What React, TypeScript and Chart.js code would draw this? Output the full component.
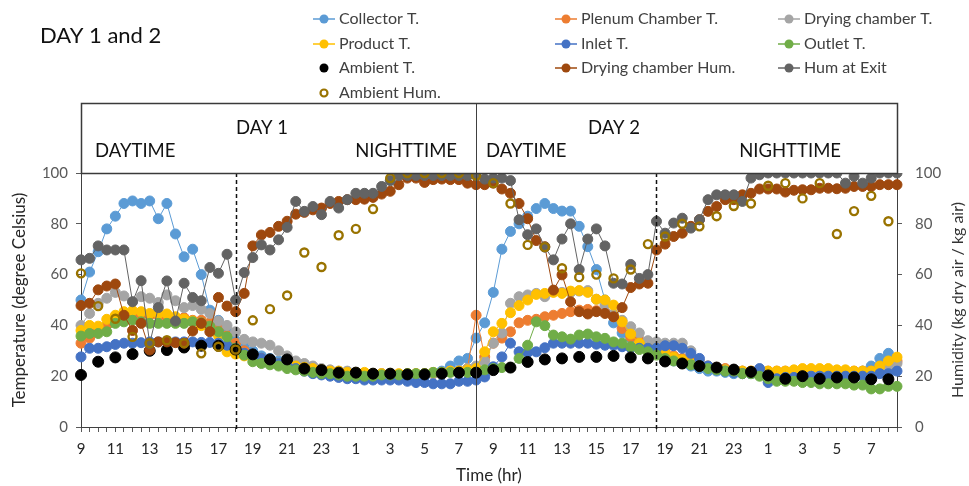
import React, { useEffect, useRef } from 'react';
import { Chart, registerables } from 'chart.js';

Chart.register(...registerables);

const FONT = "Lato, 'Open Sans', 'DejaVu Sans', sans-serif";

// ---- categories: half-hourly readings from 9:00 (day 1) to 8:30 (day 3)
const START_HOUR = 9;
const SLOTS = 96;
const categories: string[] = Array.from({ length: SLOTS }, (_, i) => {
  const h = (START_HOUR + Math.floor(i / 2)) % 24;
  return `${h}:${i % 2 === 0 ? '00' : '30'}`;
});

// x tick labels shown every 4th category (every 2 hours)
const tickLabels = ['9', '11', '13', '15', '17', '19', '21', '23', '1', '3', '5', '7',
  '9', '11', '13', '15', '17', '19', '21', '23', '1', '3', '5', '7'];
const TICK_EVERY = 4;

// y axis ticks (both axes)
const yMin = 0;
const yMax = 100;
const yStep = 20;

// ---- series (half-hourly)
const collectorT = [
  50, 61, 69, 78, 83, 88, 89, 88, 89, 82, 88, 76, 67, 70, 60, 46, 42, 38, 34,
  32, 30, 28, 27, 26, 25, 24, 23, 22, 22, 21, 21, 20, 20, 20, 20, 19.5, 19.5, 19.5, 20, 20, 20, 21, 22, 24, 26, 27,
  35, 41, 53, 70, 77, 80, 83, 86, 88, 86, 85, 85, 79, 71, 62, 50, 41, 37, 35, 33, 32,
  30, 28, 26, 25, 24, 23, 22, 22, 21.5, 21, 21, 21, 20.5, 20, 20, 20, 20, 20, 20, 20, 20, 20, 21, 21, 22, 24, 27, 29,
];
const plenumT = [
  33, 35, 38, 40, 42, 43, 44, 44, 44, 44, 43, 43, 43, 42, 42, 41, 39, 36, 33,
  30, 28, 27, 26, 25, 24, 23.5, 23, 22.5, 22, 22, 21.5, 21.5, 21, 21, 21, 21, 20.5, 20.5, 20.5, 21, 21, 21, 21.5, 22, 22, 23, 44,
  27.6, 33, 35, 37.5, 41, 42, 42.4, 43.4, 44, 44.7, 45.4, 46, 46.3, 45.8, 45.4, 43.4, 38.8, 35.5, 34, 33, 32,
  30, 28, 27, 26, 25, 24, 23.5, 23, 22.5, 22, 22, 22, 22, 22, 22, 22, 22.5, 22.5, 22.5, 22, 22, 22, 22, 22, 22, 23, 25, 26,
];
const dryingChamberT = [
  40, 44.7, 48.7, 50.7, 53, 51.6, 49.3, 51.3, 50.7, 49, 52, 49.7, 47, 47.8, 46.3, 44.7, 41.7, 40, 37.5,
  34.5, 33.5, 33, 32.2, 30, 28, 26, 25, 24, 23, 22.5, 22, 22, 21.5, 21, 21, 21, 21, 20.5, 20.5, 20.5, 21, 21, 21.5, 22, 22, 23, 24,
  26, 33, 37, 48.7, 51.3, 52, 52.6, 51.3, 53.3, 53, 53, 53.5, 53.7, 50.3, 48, 44.5, 42, 39.5, 37, 34, 33.5,
  33, 33, 33, 30, 26, 24, 23, 22.5, 22, 22, 21.5, 21.5, 21, 21, 21, 21, 21, 21, 21, 21, 21, 21, 21, 21, 21, 22, 23, 25,
];
const productT = [
  38, 40, 39.7, 42.4, 44, 45.4, 45.8, 45.4, 44.7, 44.5, 44.5, 43.4, 42.5, 41.7, 39.9, 39, 36, 29.6, 28.7,
  28, 27.5, 26.5, 25.5, 25, 24.5, 24, 23.5, 23, 22.5, 22, 22, 21.5, 21.5, 21.5, 21, 21, 21, 21, 21, 21, 21, 21.5, 21.5, 22, 22, 22.5, 23,
  29.6, 37.5, 40.8, 45, 47.8, 50, 52.2, 52.6, 53, 52.6, 53.5, 53.7, 53, 50.3, 50, 48, 41.4, 36.6, 33, 31, 30,
  29, 27.5, 26.5, 25, 24, 23.5, 23, 22.5, 22, 22, 22, 22, 22, 22, 22, 22.5, 23, 23, 23, 23, 22.5, 22.5, 22, 22, 22, 24, 26, 27.5,
];
const inletT = [
  27.6, 31, 31, 31.6, 32.5, 33, 33, 33.2, 33.5, 33.5, 33.5, 33.5, 33.5, 33.5, 33.3, 33.3, 33, 32.2, 31,
  29, 28, 27, 26, 25, 24, 23, 22, 21, 20.5, 20, 19.5, 19, 19, 18.5, 18.5, 18.5, 18.5, 18.5, 18, 17.5, 17.5, 17, 17, 17, 18, 18, 18.5,
  19.7, 23.7, 27.6, 33, 29.6, 29.3, 29.6, 31.2, 33, 33, 33, 33, 33, 32.6, 32.2, 32.2, 31.6, 31.2, 31, 31, 31,
  32, 32, 31, 29, 27, 24, 22.5, 22, 21.5, 21, 21, 23, 17.5, 19, 19.5, 19.5, 20, 20, 20, 20, 20, 20, 20, 20, 20, 21, 21, 22,
];
const outletT = [
  35.8, 36.8, 36.8, 37.5, 40.8, 41.4, 42, 41.4, 40.8, 40.8, 40.8, 40.8, 40.8, 41.4, 41, 39.7, 37.5, 35.5, 31,
  28.3, 25.7, 25, 24.5, 24, 23, 22.5, 22, 21.5, 21, 21, 20.5, 20, 20, 20, 20, 20.5, 20.5, 20.5, 21, 21, 21, 21.5, 21.5, 21.5, 21.5, 21.5, 21.5,
  22.5, 23, 23.4, 23.4, 27, 32.2, 41.4, 39.9, 36.2, 35.5, 34.6, 36.2, 36.6, 35.5, 34.9, 33.5, 33, 31.6, 30.5, 29.6, 28.3,
  27, 26, 25, 24.5, 24, 23, 22.5, 22, 22, 21, 21, 20, 19, 18, 18, 18, 17.5, 17.5, 17, 17, 17, 17, 16.5, 16.5, 15, 15, 16, 16,
];
const dryingChamberHum = [
  47.8, 48.7, 54, 55.5, 56.3, 44, 38, 40.8, 30.3, 33.5, 33.5, 33.2, 33, 37.8, 40.8, 37.5, 51, 47.6, 45.4,
  52.6, 71.3, 75.6, 76.6, 79, 81, 83.8, 84.5, 85.5, 86.2, 88, 88.8, 89.5, 89.5, 89.7, 90.4, 91.7, 92.8, 95.4, 98, 98, 96.3, 97.4, 97.6, 97.4, 97.4, 96, 95.4,
  95.4, 96, 93.7, 92, 88, 82, 73.4, 71, 53.9, 59.9, 49.3, 45.4, 44.5, 45.4, 44.7, 43.4, 47, 54.9, 56.3, 56.6, 69.7,
  72, 75, 76.3, 79, 81.6, 84.9, 86.8, 89.5, 89.5, 91.4, 92, 93.7, 93.7, 93.7, 92.5, 93.2, 93.4, 93.4, 94, 94, 93.8, 94, 94.7, 94.7, 94.7, 95.4, 95.4, 95.4,
];
const humAtExit = [
  65.8, 66.4, 71.3, 69.7, 69.7, 69.7, 49.3, 57.6, 32.9, 47, 57.5, 41.7, 56.6, 51, 49.7, 62.8, 60.5, 68, 50,
  60.8, 66.7, 71.7, 69.7, 73.7, 78.6, 88.8, 84.9, 86.8, 83.6, 88.8, 86.2, 89.5, 92, 92, 92, 94.7, 97, 99, 99, 99, 99, 99, 99, 99, 99, 99, 99,
  97.6, 98, 98, 97, 81.6, 75.7, 78, 70.8, 65.8, 74, 80, 62, 74, 78, 71.3, 56.6, 56.3, 64, 58.5, 60, 81,
  76.3, 80.3, 82.2, 78.3, 81.6, 89.5, 91.4, 91.4, 91.4, 88.8, 98, 99.3, 100, 100, 100, 100, 100, 100, 100, 100, 100, 96, 98.7, 96, 98, 100, 100, 100,
];

// ---- hourly readings (on the hour, 9:00 day 1 .. 8:00 day 3)
const ambientT = [
  20.5, 25.7, 27.4, 28.7, 30, 30.3, 31.3, 32, 32, 30.5, 28.6, 26.6, 26.6, 23, 22.4, 21.4,
  21.4, 21, 21, 20.7, 20.7, 21, 21.4, 21.4, 22.4, 23.4, 25.6, 26.6, 27, 27.6, 27.6, 28,
  27.4, 27, 25.8, 25, 24, 23.4, 22.6, 21.7, 20.3, 19, 20, 19, 19.5, 19.5, 18.8, 18.8,
];
const ambientHum = [
  60.5, 47.6, 42.6, 35.5, 33, 34.2, 33, 29, 31.6, 30.5, 42, 46.4, 51.8, 68.7, 63, 75.5,
  78, 85.8, 98, 100, 100, 100, 100, 99, 96, 88, 71.7, 70.8, 62.5, 59, 60, 58.5,
  62, 72, 75, 80, 79, 83, 87, 88, 95, 96, 90, 96, 76, 85, 91, 81,
];

const expandHourly = (arr: number[]) => arr.flatMap((v) => [v, null]);

// ---- period markers (category labels)
const day1NightStart = categories.indexOf('18:00');
const day2Start = categories.indexOf('8:00');
const day2NightStart = categories.lastIndexOf('18:30');

type Kind = 'line' | 'dot' | 'ring';
function series(label: string, data: (number | null)[], color: string, kind: Kind, axis: string) {
  const base: any = {
    label,
    data,
    borderColor: color,
    backgroundColor: color,
    pointBackgroundColor: color,
    pointBorderColor: color,
    pointBorderWidth: 1,
    pointRadius: 5,
    borderWidth: 1,
    tension: 0,
    yAxisID: axis,
    kind,
  };
  if (kind === 'dot') {
    base.showLine = false;
    base.pointRadius = 5.5;
  }
  if (kind === 'ring') {
    base.showLine = false;
    base.pointRadius = 4;
    base.pointBorderWidth = 2.4;
    base.pointBackgroundColor = 'rgba(255,255,255,0)';
  }
  return base;
}

const datasetsList = [
  series('Collector T.', collectorT, '#5B9BD5', 'line', 'y'),
  series('Plenum Chamber T.', plenumT, '#ED7D31', 'line', 'y'),
  series('Drying chamber T.', dryingChamberT, '#A5A5A5', 'line', 'y'),
  series('Product T.', productT, '#FFC000', 'line', 'y'),
  series('Inlet T.', inletT, '#4472C4', 'line', 'y'),
  series('Outlet T.', outletT, '#70AD47', 'line', 'y'),
  series('Ambient T.', expandHourly(ambientT), '#000000', 'dot', 'y'),
  series('Drying chamber Hum.', dryingChamberHum, '#9E480E', 'line', 'y2'),
  series('Hum at Exit', humAtExit, '#636363', 'line', 'y2'),
  series('Ambient Hum.', expandHourly(ambientHum), '#997300', 'ring', 'y2'),
].map((d, i, all) => ({ ...d, order: all.length - i }));

const overlayPlugin = {
  id: 'overlay',
  afterDatasetsDraw(chart: any) {
    const { ctx, chartArea, scales } = chart;
    const xs = scales.x;
    ctx.save();
    ctx.strokeStyle = '#111';
    ctx.lineWidth = 1.5;
    ctx.setLineDash([4, 3]);
    [day1NightStart, day2NightStart].forEach((idx) => {
      const px = Math.round(xs.getPixelForValue(idx)) + 0.5;
      ctx.beginPath();
      ctx.moveTo(px, chartArea.top);
      ctx.lineTo(px, chartArea.bottom + 4);
      ctx.stroke();
    });
    ctx.setLineDash([]);
    ctx.strokeStyle = '#404040';
    ctx.lineWidth = 1;
    const sx = Math.round(xs.getPixelForValue(day2Start)) + 0.5;
    ctx.beginPath();
    ctx.moveTo(sx, 103);
    ctx.lineTo(sx, chartArea.bottom);
    ctx.stroke();
    ctx.restore();
  },
  afterDraw(chart: any) {
    const { ctx, chartArea } = chart;
    ctx.save();
    // title
    ctx.fillStyle = '#111';
    ctx.font = `22px ${FONT}`;
    ctx.textAlign = 'left';
    ctx.textBaseline = 'middle';
    ctx.fillText('DAY 1 and 2', 40, 36);

    // legend
    const cols = [313, 555, 778];
    const rows = [19, 44, 68, 93];
    ctx.font = `16px ${FONT}`;
    chart.data.datasets.forEach((d: any, k: number) => {
      const x0 = cols[k % 3];
      const cy = rows[Math.floor(k / 3)];
      const mx = x0 + 11;
      if (d.kind === 'line') {
        ctx.strokeStyle = d.borderColor;
        ctx.lineWidth = 1.5;
        ctx.beginPath();
        ctx.moveTo(x0, cy);
        ctx.lineTo(x0 + 22, cy);
        ctx.stroke();
      }
      ctx.beginPath();
      if (d.kind === 'ring') {
        ctx.arc(mx, cy, 3.5, 0, Math.PI * 2);
        ctx.strokeStyle = d.borderColor;
        ctx.lineWidth = 2.2;
        ctx.stroke();
      } else {
        ctx.arc(mx, cy, 4.5, 0, Math.PI * 2);
        ctx.fillStyle = d.borderColor;
        ctx.fill();
      }
      ctx.fillStyle = '#404040';
      ctx.fillText(d.label, x0 + 26, cy);
    });

    // day box
    const top = 103;
    ctx.strokeStyle = '#3a3a3a';
    ctx.lineWidth = 1.5;
    ctx.strokeRect(chartArea.left + 0.5, top + 0.5, chartArea.right - chartArea.left, chartArea.top - top);
    ctx.fillStyle = '#111';
    ctx.font = `18.5px ${FONT}`;
    ctx.fillText('DAY 1', 236, 128);
    ctx.fillText('DAY 2', 588, 128);
    ctx.fillText('DAYTIME', 95, 151);
    ctx.fillText('DAYTIME', 486, 151);
    ctx.textAlign = 'right';
    ctx.fillText('NIGHTTIME', 457, 151);
    ctx.fillText('NIGHTTIME', 841, 151);

    // right axis title (reads bottom-to-top)
    ctx.save();
    ctx.translate(958, (chartArea.top + chartArea.bottom) / 2);
    ctx.rotate(-Math.PI / 2);
    ctx.textAlign = 'center';
    ctx.textBaseline = 'middle';
    ctx.font = `16px ${FONT}`;
    ctx.fillStyle = '#333';
    ctx.fillText('Humidity (kg dry air / kg air)', 0, 0);
    ctx.restore();
    ctx.restore();
  },
};

export default function App() {
  const ref = useRef<HTMLCanvasElement>(null);
  useEffect(() => {
    if (!ref.current) return;
    const axisTickFont = { family: FONT, size: 15 };
    const chart = new Chart(ref.current, {
      type: 'line',
      data: { labels: categories, datasets: datasetsList as any },
      options: {
        animation: false,
        responsive: false,
        maintainAspectRatio: false,
        layout: { padding: { top: 173, left: 0, right: 0, bottom: 0 } },
        plugins: { legend: { display: false }, tooltip: { enabled: false } },
        scales: {
          x: {
            type: 'category',
            offset: false,
            afterFit: (s: any) => { s.height = 59; },
            grid: { drawOnChartArea: false, drawTicks: true, tickLength: 5, color: '#595959' },
            border: { display: true, color: '#404040', width: 1 },
            ticks: {
              autoSkip: false,
              maxRotation: 0,
              minRotation: 0,
              padding: 8,
              color: '#262626',
              font: axisTickFont,
              callback: (_v: any, i: number) => (i % TICK_EVERY === 0 ? tickLabels[i / TICK_EVERY] ?? '' : ''),
            },
            title: { display: true, text: 'Time (hr)', color: '#262626', font: { family: FONT, size: 17 }, padding: { top: 0, bottom: 0 } },
          },
          y: {
            position: 'left',
            min: yMin,
            max: yMax,
            afterFit: (s: any) => { s.width = 81; },
            grid: { drawOnChartArea: false, tickLength: 5, color: '#595959' },
            border: { display: true, color: '#404040', width: 1 },
            ticks: { stepSize: yStep, padding: 8, color: '#595959', font: axisTickFont },
            title: { display: true, text: 'Temperature (degree Celsius)', color: '#262626', font: { family: FONT, size: 17 }, padding: { top: 9, bottom: 0 } },
          },
          y2: {
            position: 'right',
            min: yMin,
            max: yMax,
            afterFit: (s: any) => { s.width = 72; },
            grid: { drawOnChartArea: false, tickLength: 5, color: '#595959' },
            border: { display: true, color: '#404040', width: 1 },
            ticks: { stepSize: yStep, padding: 13, color: '#595959', font: axisTickFont },
          },
        },
      } as any,
      plugins: [overlayPlugin],
    });
    return () => chart.destroy();
  }, []);
  return (
    <div style={{ position: 'fixed', left: 0, top: 0, width: 969, height: 486, background: '#fff' }}>
      <canvas ref={ref} width={969} height={486} style={{ display: 'block' }} />
    </div>
  );
}
